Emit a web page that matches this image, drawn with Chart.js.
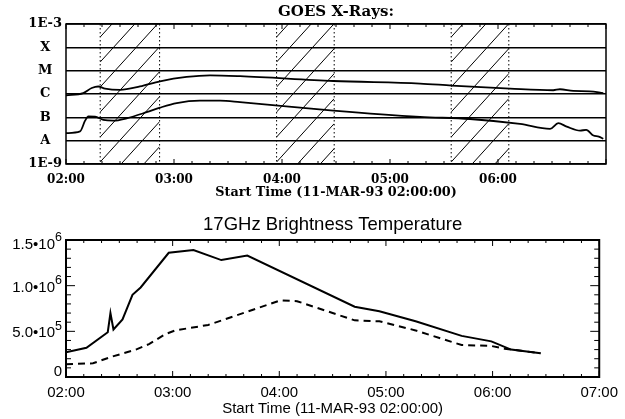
<!DOCTYPE html>
<html lang="en">
<head>
<meta charset="UTF-8">
<title>GOES X-Rays / 17GHz Brightness Temperature</title>
<script src="https://cdn.jsdelivr.net/npm/chart.js"></script>
<style>
    body { margin: 0; background: #fff; }
    .panel { position: absolute; left: 0; width: 625px; }
    #goesWrap { top: 0; height: 200px; }
    #tbWrap { top: 200px; height: 219px; }
</style>
</head>
<body>
<div class="panel" id="goesWrap"><canvas id="goesChart" width="625" height="200"></canvas></div>
<div class="panel" id="tbWrap"><canvas id="tbChart" width="625" height="219"></canvas></div>
<script>
// time is in minutes after 02:00 UT
const hourLabels = ['02:00', '03:00', '04:00', '05:00', '06:00', '07:00'];

// GOES flux levels (W/m^2) and their class labels
const goesLevels = [1e-9, 1e-8, 1e-7, 1e-6, 1e-5, 1e-4, 1e-3];
const goesLevelLabels = ['1E-9', 'A', 'B', 'C', 'M', 'X', '1E-3'];

// GOES 1-8 A channel
const goesLongTime = [0, 9.6, 14.3, 17.9, 21.7, 30, 41.1, 52.2, 67, 80, 96.7, 148.5, 196.7, 214.3, 246.7, 270.7, 274.4, 281.8, 291, 298.5];
const goesLongFlux = [8.7e-7, 1.1e-6, 1.8e-6, 2.1e-6, 1.7e-6, 1.5e-6, 2.1e-6, 3.5e-6, 5.4e-6, 6.3e-6, 5.8e-6, 3.6e-6, 2.8e-6, 2.3e-6, 1.7e-6, 1.45e-6, 1.6e-6, 1.35e-6, 1.3e-6, 1.1e-6];

// GOES 0.5-4 A channel
const goesShortTime = [0, 7.8, 10.6, 12.4, 16.1, 20.7, 26.3, 33.7, 44.8, 52.2, 61.5, 74.4, 85.6, 96.7, 148.5, 196.7, 224.4, 252.2, 268.9, 273.5, 278.2, 285.6, 289, 293, 296, 298.5];
const goesShortFlux = [2.1e-8, 2.5e-8, 7.2e-8, 1.1e-7, 1.07e-7, 7.8e-8, 7.2e-8, 9.1e-8, 1.66e-7, 2.6e-7, 4.1e-7, 5.2e-7, 5.2e-7, 4.5e-7, 1.95e-7, 1.05e-7, 8.5e-8, 5.2e-8, 3.2e-8, 5.6e-8, 4.0e-8, 2.7e-8, 2.9e-8, 1.66e-8, 1.5e-8, 1.2e-8];

// hatched (data gap) intervals
const hatchStart = [19, 117, 214];
const hatchEnd = [52, 149, 246];

// 17GHz brightness temperature (K)
const tbLabelBase = ['0', '5.0•10', '1.0•10', '1.5•10'];
const tbLabelExp = ['', '5', '6', '6'];
const tbSolidTime = [0, 11.5, 23.5, 25, 26.7, 31.8, 37.4, 42, 57.8, 71.7, 87.4, 102, 162.4, 176.3, 196.7, 222.6, 239.3, 250.4, 267];
const tbSolid = [2.7e5, 3.2e5, 4.9e5, 7.0e5, 5.2e5, 6.3e5, 9.0e5, 9.8e5, 1.36e6, 1.39e6, 1.28e6, 1.33e6, 7.7e5, 7.2e5, 6.1e5, 4.5e5, 3.9e5, 3.0e5, 2.6e5];
const tbDashTime = [0, 15.2, 25.4, 39.3, 46.7, 55.9, 61.5, 80, 96.7, 120.7, 130, 162.4, 176.3, 196.7, 222.6, 239.3, 246.7, 267];
const tbDash = [1.4e5, 1.5e5, 2.2e5, 3.0e5, 3.6e5, 4.7e5, 5.1e5, 5.7e5, 6.8e5, 8.4e5, 8.3e5, 6.2e5, 6.1e5, 5.1e5, 3.5e5, 3.4e5, 3.1e5, 2.6e5];

const serif = "'DejaVu Serif', 'Liberation Serif', serif";
const sans = "'Liberation Sans', Arial, sans-serif";

function pairs(xs, ys) {
    return xs.map((x, i) => ({ x: x, y: ys[i] }));
}

// box round the plot area
const framePlugin = {
    id: 'frame',
    afterDraw(chart, args, opts) {
        const { ctx, chartArea: a } = chart;
        ctx.save();
        ctx.strokeStyle = '#000';
        ctx.lineWidth = opts.width;
        ctx.strokeRect(a.left, a.top, a.right - a.left, a.bottom - a.top);
        ctx.restore();
    }
};

// inward tick marks, IDL style
const tickMarks = {
    id: 'tickMarks',
    afterDraw(chart, args, o) {
        const { ctx, chartArea: a, scales } = chart;
        ctx.save();
        ctx.strokeStyle = '#000';
        ctx.lineWidth = 1;
        ctx.beginPath();
        const xs = scales.x;
        for (let v = xs.min; v <= xs.max; v += o.xMinor) {
            const px = xs.getPixelForValue(v);
            const len = v % o.xMajor === 0 ? o.major : o.minor;
            ctx.moveTo(px, a.bottom); ctx.lineTo(px, a.bottom - len);
            ctx.moveTo(px, a.top); ctx.lineTo(px, a.top + len);
        }
        if (o.yMinor) {
            const ys = scales.y;
            for (let v = ys.min; v <= ys.max + 1; v += o.yMinor) {
                const py = ys.getPixelForValue(v);
                const len = v % o.yMajor === 0 ? o.yMajorLen : o.minor + 2;
                ctx.moveTo(a.left, py); ctx.lineTo(a.left + len, py);
                ctx.moveTo(a.right, py); ctx.lineTo(a.right - len, py);
            }
        }
        ctx.stroke();
        ctx.restore();
    }
};

// hatched intervals with dotted edges
const hatchPlugin = {
    id: 'hatch',
    beforeDatasetsDraw(chart, args, o) {
        const { ctx, chartArea: a, scales } = chart;
        const xs = scales.x;
        ctx.save();
        ctx.strokeStyle = '#000';
        hatchStart.forEach((s, i) => {
            const x0 = xs.getPixelForValue(s);
            const x1 = xs.getPixelForValue(hatchEnd[i]);
            const w = x1 - x0;
            ctx.save();
            ctx.beginPath();
            ctx.rect(x0, a.top, w, a.bottom - a.top);
            ctx.clip();
            ctx.lineWidth = 1;
            ctx.beginPath();
            for (let y = a.top + o.offset; y < a.bottom + w * o.slope + o.spacing; y += o.spacing) {
                ctx.moveTo(x0, y);
                ctx.lineTo(x1, y - w * o.slope);
            }
            ctx.stroke();
            ctx.restore();
            ctx.lineWidth = 1;
            ctx.setLineDash([1.5, 2.5]);
            ctx.beginPath();
            ctx.moveTo(x0, a.top); ctx.lineTo(x0, a.bottom);
            ctx.moveTo(x1, a.top); ctx.lineTo(x1, a.bottom);
            ctx.stroke();
            ctx.setLineDash([]);
        });
        ctx.restore();
    }
};

// y labels with a raised exponent (1.0•10^6)
const expLabels = {
    id: 'expLabels',
    afterDraw(chart, args, o) {
        const { ctx, chartArea: a, scales } = chart;
        const ys = scales.y;
        ctx.save();
        ctx.fillStyle = '#000';
        ctx.textBaseline = 'middle';
        ys.ticks.forEach((t, i) => {
            const py = ys.getPixelForValue(t.value);
            const yb = Math.min(Math.max(py + 2, a.top + 5), a.bottom - 5);
            const exp = tbLabelExp[i];
            ctx.font = o.expSize + 'px ' + sans;
            const ew = exp ? ctx.measureText(exp).width : 0;
            const xr = a.left - o.gap - ew;
            ctx.font = o.size + 'px ' + sans;
            ctx.textAlign = 'right';
            ctx.fillText(tbLabelBase[i], xr, yb);
            if (exp) {
                ctx.font = o.expSize + 'px ' + sans;
                ctx.textAlign = 'left';
                ctx.fillText(exp, xr, yb - 7);
            }
        });
        ctx.restore();
    }
};

new Chart(document.getElementById('goesChart'), {
    type: 'line',
    data: {
        datasets: [
            {
                label: '1-8 A',
                data: pairs(goesLongTime, goesLongFlux),
                borderColor: '#000',
                borderWidth: 1.8,
                pointRadius: 0,
                cubicInterpolationMode: 'monotone',
                fill: false
            },
            {
                label: '0.5-4 A',
                data: pairs(goesShortTime, goesShortFlux),
                borderColor: '#000',
                borderWidth: 1.8,
                pointRadius: 0,
                cubicInterpolationMode: 'monotone',
                fill: false
            }
        ]
    },
    options: {
        responsive: false,
        animation: false,
        layout: { padding: { left: 0, right: 19, top: 0, bottom: 0 } },
        scales: {
            x: {
                type: 'linear',
                min: 0,
                max: 300,
                grid: { display: false, drawTicks: false },
                border: { display: false },
                ticks: {
                    stepSize: 60,
                    padding: 9,
                    maxRotation: 0,
                    color: '#000',
                    font: { family: serif, size: 12, weight: 'bold' },
                    callback: (v, i) => (i < hourLabels.length - 1 ? hourLabels[i] : '')
                },
                title: {
                    display: true,
                    text: 'Start Time (11-MAR-93 02:00:00)',
                    color: '#000',
                    font: { family: serif, size: 12.8, weight: 'bold' },
                    padding: { top: 0, bottom: 0 }
                },
                afterFit: s => { s.height = 36; }
            },
            y: {
                type: 'logarithmic',
                min: 1e-9,
                max: 1e-3,
                afterBuildTicks: s => { s.ticks = goesLevels.map(v => ({ value: v })); },
                grid: { color: '#000', lineWidth: 1.5, drawTicks: false },
                border: { display: false },
                ticks: {
                    crossAlign: 'center',
                    padding: 4,
                    color: '#000',
                    font: { family: serif, size: 13, weight: 'bold' },
                    callback: v => goesLevelLabels[goesLevels.findIndex(l => Math.abs(l - v) / l < 1e-6)]
                },
                afterFit: s => { s.width = 66; }
            }
        },
        plugins: {
            legend: { display: false },
            tooltip: { enabled: false },
            title: {
                display: true,
                text: 'GOES X-Rays:',
                color: '#000',
                fullSize: false,
                font: { family: serif, size: 15, weight: 'bold' },
                padding: { top: 3, bottom: 3 }
            },
            hatch: { offset: 13, spacing: 25, slope: 1.1 },
            frame: { width: 1.5 },
            tickMarks: { xMinor: 10, xMajor: 60, minor: 3, major: 5 }
        }
    },
    plugins: [hatchPlugin, framePlugin, tickMarks]
});

new Chart(document.getElementById('tbChart'), {
    type: 'line',
    data: {
        datasets: [
            {
                label: 'Peak',
                data: pairs(tbSolidTime, tbSolid),
                borderColor: '#000',
                borderWidth: 2,
                pointRadius: 0,
                tension: 0,
                fill: false
            },
            {
                label: 'Mean',
                data: pairs(tbDashTime, tbDash),
                borderColor: '#000',
                borderWidth: 2,
                borderDash: [7, 5],
                pointRadius: 0,
                tension: 0,
                fill: false
            }
        ]
    },
    options: {
        responsive: false,
        animation: false,
        layout: { padding: { left: 0, right: 18, top: 0, bottom: 0 } },
        scales: {
            x: {
                type: 'linear',
                min: 0,
                max: 300,
                grid: { display: false, drawTicks: false },
                border: { display: false },
                ticks: {
                    stepSize: 60,
                    padding: 7,
                    maxRotation: 0,
                    color: '#000',
                    font: { family: sans, size: 15 },
                    callback: (v, i) => hourLabels[i]
                },
                title: {
                    display: true,
                    text: 'Start Time (11-MAR-93 02:00:00)',
                    color: '#000',
                    font: { family: sans, size: 15 },
                    padding: { top: 0, bottom: 1.5 }
                },
                afterFit: s => { s.height = 42; }
            },
            y: {
                type: 'linear',
                min: 0,
                max: 1.5e6,
                grid: { display: false, drawTicks: false },
                border: { display: false },
                ticks: { stepSize: 5e5, display: false },
                afterFit: s => { s.width = 66; }
            }
        },
        plugins: {
            legend: { display: false },
            tooltip: { enabled: false },
            title: {
                display: true,
                text: '17GHz Brightness Temperature',
                color: '#000',
                fullSize: false,
                font: { family: sans, size: 18.5, weight: 'normal' },
                padding: { top: 13.9, bottom: 3.9 }
            },
            frame: { width: 2 },
            tickMarks: { xMinor: 10, xMajor: 60, minor: 3, major: 6, yMinor: 1e5, yMajor: 5e5, yMajorLen: 9 },
            expLabels: { size: 15, expSize: 12.5, gap: 4 }
        }
    },
    plugins: [framePlugin, tickMarks, expLabels]
});
</script>
</body>
</html>
